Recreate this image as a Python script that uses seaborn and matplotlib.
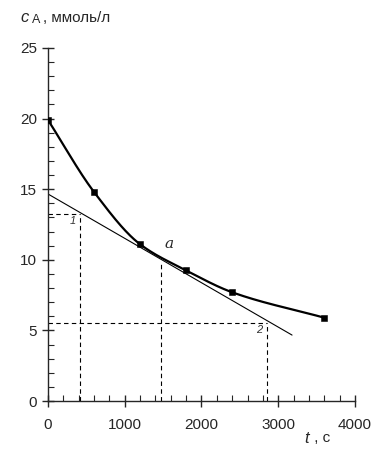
import numpy as np
import pandas as pd
import matplotlib
matplotlib.use('Agg')
import matplotlib.pyplot as plt
import seaborn as sns
from matplotlib.ticker import MultipleLocator

# experimental points
t_points = [0, 600, 1200, 1800, 2400, 3600]
c_points = [19.9, 14.8, 11.1, 9.25, 7.7, 5.9]

# tangent at point a
tangent_t = [0, 3180]
tangent_c = [14.66, 4.67]

# guide points (1, a, 2)
guide_labels = ['1', 'a', '2']
guide_t = [420, 1470, 2850]
guide_c = [13.24, 9.85, 5.52]


def pchip(x, y, xs):
    x = np.asarray(x, float)
    y = np.asarray(y, float)
    h = np.diff(x)
    d = np.diff(y) / h
    m = np.zeros_like(y)
    for k in range(1, len(x) - 1):
        if d[k - 1] * d[k] > 0:
            w1 = 2 * h[k] + h[k - 1]
            w2 = h[k] + 2 * h[k - 1]
            m[k] = (w1 + w2) / (w1 / d[k - 1] + w2 / d[k])
    m[0] = d[0]
    m[-1] = d[-1]
    idx = np.clip(np.searchsorted(x, xs) - 1, 0, len(x) - 2)
    s = (xs - x[idx]) / h[idx]
    h00 = 2 * s**3 - 3 * s**2 + 1
    h10 = s**3 - 2 * s**2 + s
    h01 = -2 * s**3 + 3 * s**2
    h11 = s**3 - s**2
    return h00 * y[idx] + h10 * h[idx] * m[idx] + h01 * y[idx + 1] + h11 * h[idx] * m[idx + 1]


sns.set_style('ticks')
plt.rcParams['font.family'] = ['Liberation Sans', 'DejaVu Sans']

fig = plt.figure(figsize=(3.85, 4.65), dpi=100)
ax = fig.add_axes([0.1247, 0.1376, 0.7973, 0.7592])

ts = np.linspace(t_points[0], t_points[-1], 300)
curve = pd.DataFrame({'t': ts, 'c': pchip(t_points, c_points, ts)})
sns.lineplot(data=curve, x='t', y='c', ax=ax, color='black', lw=1.6)
sns.lineplot(x=tangent_t, y=tangent_c, ax=ax, color='black', lw=0.8)
sns.scatterplot(x=t_points, y=c_points, ax=ax, marker='s', color='black',
                s=24, edgecolor='black', zorder=5)

dash = dict(color='black', lw=0.8, ls=(0, (4, 3)))
for lab, gt, gc in zip(guide_labels, guide_t, guide_c):
    ax.plot([gt, gt], [0, gc], **dash)
    if lab != 'a':
        ax.plot([0, gt], [gc, gc], **dash)

ax.text(guide_t[0] - 60, guide_c[0] - 0.15, guide_labels[0], ha='right', va='top',
        fontsize=8, style='italic', color='#333333')
ax.text(guide_t[2] - 60, guide_c[2] - 0.15, guide_labels[2], ha='right', va='top',
        fontsize=8, style='italic', color='#333333')
ax.text(1520, 10.6, guide_labels[1], ha='left', va='bottom', fontsize=11,
        style='italic', family='DejaVu Serif')

ax.set_xlim(0, 4000)
ax.set_ylim(0, 25)
ax.xaxis.set_major_locator(MultipleLocator(1000))
ax.xaxis.set_minor_locator(MultipleLocator(200))
ax.yaxis.set_major_locator(MultipleLocator(5))
ax.yaxis.set_minor_locator(MultipleLocator(1))
ax.tick_params(which='major', direction='inout', length=8, width=1,
               labelsize=11)
ax.tick_params(axis='x', which='major', pad=8)
ax.tick_params(axis='y', which='major', pad=4)
ax.tick_params(which='minor', direction='in', length=4, width=0.8)
ax.set_xlabel('')
ax.set_ylabel('')
sns.despine(ax=ax)
for sp in ['left', 'bottom']:
    ax.spines[sp].set_linewidth(1)

fig.text(0.052, 0.962, 'c', fontsize=12, style='italic', va='center', ha='left')
fig.text(0.083, 0.957, 'А', fontsize=9, va='center', ha='left')
fig.text(0.112, 0.962, ', ммоль/л', fontsize=11, va='center', ha='left')
fig.text(0.79, 0.057, 't', fontsize=12, style='italic', va='center', ha='left')
fig.text(0.805, 0.057, ' , с', fontsize=11, va='center', ha='left')

fig.savefig('out.png', dpi=100)
